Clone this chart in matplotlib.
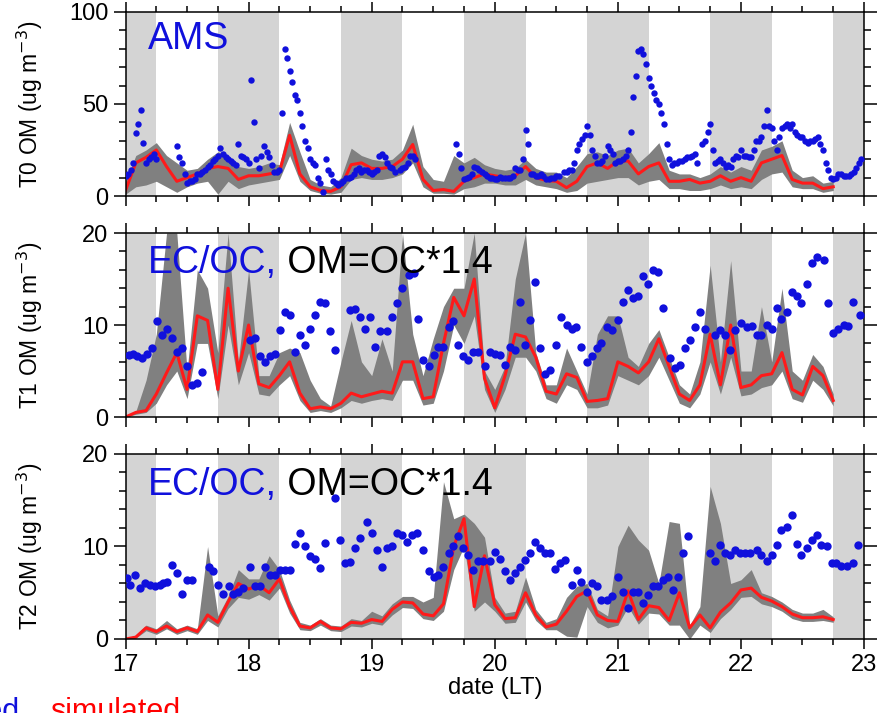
import matplotlib
matplotlib.use("Agg")
import matplotlib.pyplot as plt
import numpy as np
from matplotlib.ticker import MultipleLocator

plt.rcParams.update({
    "font.family": ["Liberation Sans", "DejaVu Sans"],
    "font.size": 16,
    "axes.linewidth": 1.1,
})

# model output every 2 h from 17 Jan 00:00 LT (hours since day 17)
model_hours = list(range(0, 139, 2))

t0_sim = [3, 18, 21, 25, 16, 8, 10, 12, 15, 16,
          15, 9, 11, 11, 12, 13, 33, 12, 5, 3,
          2.5, 5, 17, 18, 15, 15, 16, 20, 28, 9,
          3, 3.5, 2.5, 8, 10, 12, 11, 10, 11, 16,
          10, 8.5, 8, 4.5, 8, 16, 18, 15, 19, 19,
          12, 16, 18, 8, 8, 9, 7, 8, 11, 8,
          10, 8, 18, 20, 22, 9, 7, 7, 4, 5]
t0_hi = [8, 22, 25, 29, 22, 18, 14, 15, 20, 24,
         22, 16, 15, 16, 18, 17, 40, 24, 9, 6,
         5, 10, 26, 22, 20, 19, 20, 25, 39, 16,
         9, 8, 22, 18, 21, 17, 15, 14, 15, 20,
         15, 13, 13, 10, 16, 23, 24, 22, 25, 26,
         18, 23, 29, 14, 12, 12, 10, 12, 16, 13,
         16, 14, 25, 27, 30, 14, 10, 11, 7, 8]
t0_lo = [1, 5, 6, 8, 5, 2, 5, 7, 8, 1,
         8, 4, 6, 7, 8, 9, 22, 8, 3, 1.5,
         1, 2, 9, 10, 9, 9, 10, 12, 18, 5,
         1.5, 1.5, 1, 4, 5, 7, 7, 6, 6, 9,
         6, 5, 4, 2, 3, 7, 8, 9, 10, 10,
         6, 8, 9, 4, 4, 3, 3, 4, 6, 4,
         5, 4, 9, 12, 13, 5, 4, 4, 2, 3]

t1_sim = [0, 0.5, 0.7, 2.5, 4.8, 7, 3, 11, 10.5, 3,
          14, 5, 10, 3.6, 3.2, 4.5, 6, 2.6, 0.9, 1.1,
          0.9, 1.5, 2.6, 2.2, 2.5, 2.8, 2.6, 6, 6, 2,
          2.2, 8, 13, 11, 15, 4.2, 1, 4.5, 9, 8.7,
          6.5, 2.8, 2.5, 4.7, 4.3, 1.7, 1.8, 2, 6, 5.5,
          4.8, 6, 8.5, 5.5, 2.5, 1.8, 3.5, 9, 3.5, 10,
          3.2, 3.5, 4.5, 4.7, 7, 3, 2.4, 5.5, 4.5, 1.8]
t1_hi = [0.2, 0.6, 4, 9, 20, 20, 5, 16, 14, 7,
         20, 6, 16, 4.5, 4.5, 7, 7.5, 7, 4, 2,
         1.2, 6, 10.5, 6, 4.5, 8.5, 5, 20, 9, 4.5,
         8.5, 12, 14, 14, 20, 5, 3, 5.5, 15, 20,
         7, 3.5, 3.5, 7.5, 5, 2.5, 9, 11, 11, 6.5,
         5.5, 8, 9.5, 6.5, 3.5, 2.5, 6, 16.5, 6, 17,
         5, 5, 12, 6, 14, 5, 4, 6.8, 5.5, 2.5]
t1_lo = [0, 0.3, 0.5, 1.5, 3.5, 5, 2, 8, 8, 2,
         10, 3.5, 7, 2.5, 2.3, 3.5, 4.5, 1.8, 0.5, 0.7,
         0.5, 1, 1.8, 1.5, 1.8, 2, 1.8, 4, 4, 1.3,
         1.5, 5, 10, 8, 11, 3, 0.5, 3, 6.5, 6.5,
         5, 2, 1.5, 3.5, 3, 1, 1, 1.3, 4.5, 4,
         3.5, 4.5, 6.5, 4, 1.5, 1, 2.5, 6, 2.5, 6.5,
         2.3, 2.5, 3.2, 3.5, 5, 2, 1.6, 4, 3, 1.2]

t2_sim = [0, 0.2, 1.2, 0.8, 1.4, 0.8, 1.2, 0.8, 2.6, 1.8,
          4, 6, 5.4, 5.8, 5, 6.5, 3.5, 1.4, 1.2, 1.9,
          1.2, 1.1, 1.8, 1.7, 2.1, 1.9, 3.2, 4, 3.9, 2.7,
          2.5, 3.8, 10, 13, 3.5, 9, 3.7, 2.2, 2.3, 5,
          2.6, 1.3, 1.6, 3, 4.6, 5.2, 2.6, 2, 1.9, 5.2,
          2.1, 3.6, 3.4, 2, 5, 1.2, 2.6, 1.2, 2.9, 3.9,
          5.3, 5.5, 4.5, 4.1, 3.5, 2.7, 2.3, 2.3, 2.4, 2.1]
t2_hi = [0.1, 0.4, 1.5, 1.1, 2, 1.1, 1.5, 1.1, 10, 2.5,
         4.6, 7.5, 6.5, 6.5, 9, 7.5, 4.2, 1.8, 1.5, 2.2,
         1.5, 1.4, 2.2, 2, 3, 2.5, 3.8, 4.6, 4.6, 4,
         4.5, 17, 13, 13.5, 12.5, 11, 4.5, 2.8, 3, 6.7,
         3.2, 1.8, 2.2, 4.5, 5.7, 6, 3.2, 2.5, 10, 12.3,
         10.7, 9.6, 6, 12.7, 12.5, 1.5, 3.5, 16.5, 12.5, 6,
         6.4, 7.5, 5, 4.6, 4, 3.2, 2.8, 2.8, 3.2, 2.4]
t2_lo = [0, 0.1, 0.9, 0.5, 1.1, 0.5, 0.9, 0.5, 2, 1.3,
         3.3, 4.5, 4.3, 4.8, 4.2, 5.5, 2.8, 1, 0.9, 1.5,
         0.9, 0.8, 1.4, 1.3, 1.7, 1.5, 2.6, 3.4, 3.3, 2.2,
         2, 3, 7.5, 10, 3, 4, 3, 1.7, 1.8, 4,
         2, 1, 1, 0.3, 0.2, 3.5, 1.8, 1.2, 1.5, 3.5,
         1.6, 2.8, 2.7, 1.5, 1.5, 0, 1.5, 0.7, 2.2, 3.2,
         4.5, 4.6, 3.8, 3.5, 3, 2.2, 1.9, 1.9, 2, 1.8]

# AMS observations every 30 min (nan = no data)
nan = np.nan
ams_hours = list(np.arange(0, 144, 0.5))
ams_obs = [11, 12, 14, 18, 34, 39, 47, 29, 18, 20, 21, 23,
           20, nan, nan, nan, nan, nan, nan, nan, 27, 21, 18, 12,
           7, 8, 8, 9, 12, 12, 13, 14, 16, 17, 19, 20,
           22, 26, 23, 21, 20, 19, 18, 17, 28, 22, 21, 20,
           18, 63, 40, 20, 15, 22, 27, 24, 21, 17, 13, 13,
           14, 45, 80, 75, 68, 62, 55, 52, 45, 38, 30, 26,
           20, 18, 17, 10, 7, 2, 20, 14, 12, 8, 7, 6,
           7, 8, 9.6, 10, 10.5, 12, 14, 15, 13, 14, 14, 13,
           12, 13, 14, 22, 23, 21, 18, 16, 15, 13, nan, 14,
           15, 16, 18, 22, 22, 20, nan, nan, nan, nan, nan, nan,
           nan, nan, nan, nan, nan, nan, nan, nan, nan, 28, 23, 15,
           9, 10, 10.5, 12, 16, 15, 14, 13, 12, 11, 9.6, 9.6,
           9, 9, 10.5, 10, 9.6, 9.6, 9.6, 11, 15, 14, 14, 20,
           36, 28, 12, 12, 11, 11, 12, 11, 9, 9, 9.6, 10,
           11, 11, nan, 13, 13, 14, 14, 18, 25, 28, 31, 33,
           38, 33, 25, 22, 18, 18, 19, 22, 27, 25, 23, 18,
           19, 19, 20, 22, 25, 35, 54, 65, 79, 80, 77, 72,
           64, 60, 56, 52, 50, 45, 39, 28, 20, 17, 18, 18,
           19, 19, 20, 21, 21, 22, 23, 18, nan, 28, 30, 35,
           39, 25, 18, 19, 20, 18, 16, 17, 16, 20, 22, 21,
           25, 22, 22, 21, 21, 25, 30, 30, 32, 38, 47, 38,
           37, 30, 25, 32, 37, 38, 39, 37, 39, 35, 33, 32,
           32, 30, 29, 30, 30, 31, 32, 28, 25, 18, 14, 10,
           9, 10, 12, 12, 11, 11, 11, 12, 13, 15, 18, 20]

# EC/OC observations (hours since day 17, OM)
t1_obs_hours = [0.6, 1.5, 2.2, 3.2, 4.2, 5.1, 6.1, 7.1, 8.1, 9.0, 10.0, 11.0, 12.0, 12.9,
                13.9, 14.9, 24.3, 25.3, 26.3, 27.2, 28.2, 29.2, 30.2, 31.1, 32.1, 33.1,
                34.1, 35.0, 36.0, 37.0, 38.0, 38.9, 39.9, 40.9, 43.8, 44.8, 45.7, 46.7,
                47.7, 48.7, 49.7, 51.0, 51.9, 52.9, 53.9, 55.2, 56.2, 57.1, 58.1, 59.1,
                60.1, 61.0, 62.0, 63.0, 63.9, 64.9, 65.9, 66.8, 67.8, 68.8, 70.1, 71.1,
                72.0, 73.0, 74.0, 75.0, 75.9, 76.9, 77.9, 78.9, 79.8, 80.8, 81.8, 82.8,
                84.0, 85.0, 86.0, 87.0, 87.9, 88.9, 89.9, 90.9, 91.9, 92.8, 93.8, 94.8,
                96.1, 97.1, 98.0, 99.0, 100.0, 101.0, 101.9, 102.9, 103.9, 104.9, 106.1,
                107.1, 108.1, 109.1, 110.1, 111.0, 112.0, 113.0, 114.9, 115.9, 116.9,
                117.9, 118.8, 120.1, 121.1, 122.1, 123.1, 124.0, 125.0, 126.0, 127.0,
                127.9, 128.9, 129.9, 130.9, 131.8, 132.8, 133.8, 134.8, 136.1, 137.0,
                138.0, 139.0, 140.0, 140.9, 141.9, 143.2]
t1_obs = [6.7, 6.9, 6.6, 6.4, 6.9, 7.5, 10.4, 8.9, 9.6, 8.6, 7.1, 7.5, 5.5, 3.5,
          3.7, 4.9, 8.4, 8.6, 6.6, 6.0, 6.6, 6.9, 9.5, 11.4, 11.1, 7.1,
          8.9, 7.8, 9.6, 11.1, 12.5, 12.4, 9.3, 7.3, 11.6, 11.7, 10.9, 9.6,
          10.9, 7.6, 9.3, 9.3, 10.9, 12.4, 14.0, 15.4, 15.6, 10.7, 6.2, 5.5,
          6.7, 7.6, 7.6, 9.8, 10.4, 7.8, 6.6, 6.2, 7.1, 7.1, 5.5, 7.1,
          6.9, 6.7, 5.7, 7.6, 7.3, 12.5, 7.8, 10.5, 14.7, 7.5, 4.7, 5.1,
          7.8, 10.9, 10.0, 9.6, 9.8, 7.6, 6.0, 6.6, 7.5, 8.0, 9.8, 9.5,
          10.5, 12.5, 13.8, 12.9, 13.1, 15.3, 14.5, 16.0, 15.8, 11.8, 6.4,
          5.3, 5.7, 7.5, 8.4, 9.8, 11.4, 9.6, 8.9, 9.5, 8.9,
          7.3, 9.5, 10.2, 9.8, 9.9, 8.9, 8.9, 10.0, 9.6, 11.8,
          10.7, 11.4, 13.6, 13.1, 12.4, 14.5, 16.7, 17.4, 17.1, 12.4,
          9.1, 9.6, 10.0, 9.9, 12.5, 11.1]

t2_obs_hours = [0.2, 0.9, 1.9, 2.8, 3.8, 4.8, 5.8, 6.7, 7.4, 8.0, 9.0, 10.0, 11.0, 12.0,
                12.9, 16.2, 17.1, 18.1, 19.1, 20.1, 21.0, 22.0, 23.0, 24.3, 25.3, 26.3,
                27.2, 28.2, 29.2, 30.2, 31.1, 32.1, 33.1, 34.1, 35.0, 36.0, 37.0, 38.0,
                38.9, 40.9, 41.9, 42.8, 43.8, 44.8, 45.7, 47.1, 48.0, 49.0, 50.0, 51.0,
                51.9, 52.9, 53.9, 54.9, 55.8, 56.8, 58.1, 59.1, 60.1, 61.0, 62.0, 63.0,
                63.9, 64.9, 65.9, 66.8, 67.8, 68.8, 69.8, 71.1, 72.0, 73.0, 74.0, 75.0,
                75.9, 76.9, 77.9, 78.9, 79.8, 80.8, 81.8, 82.8, 83.7, 84.7, 85.7, 87.0,
                88.0, 88.9, 89.9, 90.9, 91.9, 92.8, 93.8, 94.8, 96.1, 97.1, 98.0, 99.0,
                100.0, 101.0, 101.9, 102.9, 103.9, 104.9, 105.8, 106.8, 107.8, 108.8,
                109.7, 113.9, 114.9, 115.9, 116.9, 117.9, 118.8, 119.8, 120.8, 121.8,
                123.1, 124.0, 125.0, 126.0, 127.0, 127.9, 128.9, 129.9, 130.9, 131.8,
                132.8, 133.8, 134.8, 135.7, 136.7, 137.7, 138.6, 139.6, 140.6, 141.9,
                142.9]
t2_obs = [6.6, 5.8, 6.9, 5.5, 6.0, 5.8, 5.7, 5.8, 6.0, 6.2, 8.0, 7.1, 4.9, 6.4,
          6.4, 7.8, 7.3, 5.8, 4.9, 5.7, 4.9, 5.1, 5.5, 7.8, 5.7, 5.7,
          7.8, 6.9, 6.9, 7.5, 7.5, 7.5, 10.3, 11.5, 10.0, 9.0, 8.7, 7.7,
          10.4, 15.2, 10.7, 8.2, 8.3, 9.8, 10.9, 12.7, 11.5, 9.6, 7.8, 9.8,
          10.1, 11.5, 11.2, 10.5, 11.2, 11.5, 9.6, 7.3, 6.7, 6.9, 7.8, 9.3,
          10.0, 11.1, 9.8, 9.1, 7.5, 8.4, 8.4, 8.4, 9.4, 8.7, 7.3, 6.4,
          7.1, 7.8, 8.5, 9.3, 10.5, 9.8, 9.3, 9.3, 7.6, 8.2, 8.5, 5.8,
          7.5, 6.2, 5.1, 6.0, 5.7, 4.2, 4.2, 4.6, 6.7, 5.1, 3.3, 5.1,
          5.1, 3.9, 4.8, 5.7, 5.7, 6.4, 6.7, 5.3, 6.7, 9.3,
          11.1, 9.3, 8.4, 10.2, 9.3, 9.1, 9.6, 9.3, 9.3, 9.3,
          9.6, 9.1, 8.4, 9.1, 10.2, 11.8, 12.1, 13.4, 10.3, 9.1,
          9.8, 10.7, 11.2, 10.2, 10.1, 8.2, 8.2, 7.9, 7.9, 8.2,
          10.2]

days = [17, 18, 19, 20, 21, 22, 23]
night_hours = 6  # nights shaded 18:00-06:00 LT

BLUE = "#1010dc"
RED = "#ff1a1a"
BAND = "#808080"
NIGHT = "#d4d4d4"


def to_date(hours):
    return days[0] + np.asarray(hours, dtype=float) / 24.0


def draw_panel(ax, sim, lo, hi, obs_h, obs, ymax, ylabel, msize):
    for d in days:
        ax.axvspan(d - night_hours / 24, d + night_hours / 24,
                   color=NIGHT, lw=0, zorder=0)
    tm = to_date(model_hours)
    ax.fill_between(tm, lo, hi, color=BAND, lw=0, zorder=1)
    ax.plot(tm, sim, color=RED, lw=2.2, zorder=2)
    ax.plot(to_date(obs_h), obs, "o", color=BLUE, ms=msize, mec="none", zorder=3)

    ax.set_xlim(days[0], days[-1])
    ax.set_ylim(0, ymax)
    ax.xaxis.set_major_locator(MultipleLocator(1))
    ax.xaxis.set_minor_locator(MultipleLocator(0.25))
    ax.yaxis.set_major_locator(MultipleLocator(ymax / 2))
    ax.yaxis.set_minor_locator(MultipleLocator(ymax / 10))
    ax.tick_params(which="both", direction="out", top=True, right=True,
                   width=1.1, labelsize=17)
    ax.tick_params(axis="y", which="major", length=9)
    ax.tick_params(axis="y", which="minor", length=5)
    ax.tick_params(axis="x", which="major", length=7)
    ax.tick_params(axis="x", which="minor", length=4)
    ax.set_ylabel(ylabel, fontsize=16.5)


fig = plt.figure(figsize=(8.89, 7.13), dpi=100)
left, width = 0.1412, 0.8307
ax0 = fig.add_axes([left, 0.7251, width, 0.2581])
ax1 = fig.add_axes([left, 0.4151, width, 0.2581])
ax2 = fig.add_axes([left, 0.1038, width, 0.2595])

draw_panel(ax0, t0_sim, t0_lo, t0_hi, ams_hours, ams_obs, 100,
           "T0 OM (ug m$^{-3}$)", 4.6)
draw_panel(ax1, t1_sim, t1_lo, t1_hi, t1_obs_hours, t1_obs, 20,
           "T1 OM (ug m$^{-3}$)", 6)
draw_panel(ax2, t2_sim, t2_lo, t2_hi, t2_obs_hours, t2_obs, 20,
           "T2 OM (ug m$^{-3}$)", 6)

for ax in (ax0, ax1):
    ax.tick_params(labelbottom=False)
for ax in (ax0, ax1, ax2):
    ax.yaxis.set_label_coords(-0.109, 0.5)

ax0.text(0.03, 0.80, "AMS", color=BLUE, fontsize=27, transform=ax0.transAxes)
for ax in (ax1, ax2):
    t = ax.text(0.03, 0.78, "EC/OC,", color=BLUE, fontsize=27,
                transform=ax.transAxes)
    ax.annotate(" OM=OC*1.4", xy=(1, 0), xycoords=t, va="bottom",
                fontsize=27, color="black")

ax2.set_xlabel("date (LT)", fontsize=17, labelpad=1)

fig.text(20 / 889, -7 / 713, "observed", color=BLUE, fontsize=22, ha="right",
         va="baseline")
fig.text(50 / 889, -7 / 713, "simulated", color="red", fontsize=22, ha="left",
         va="baseline")

fig.savefig("out.png", dpi=100)
plt.close(fig)
